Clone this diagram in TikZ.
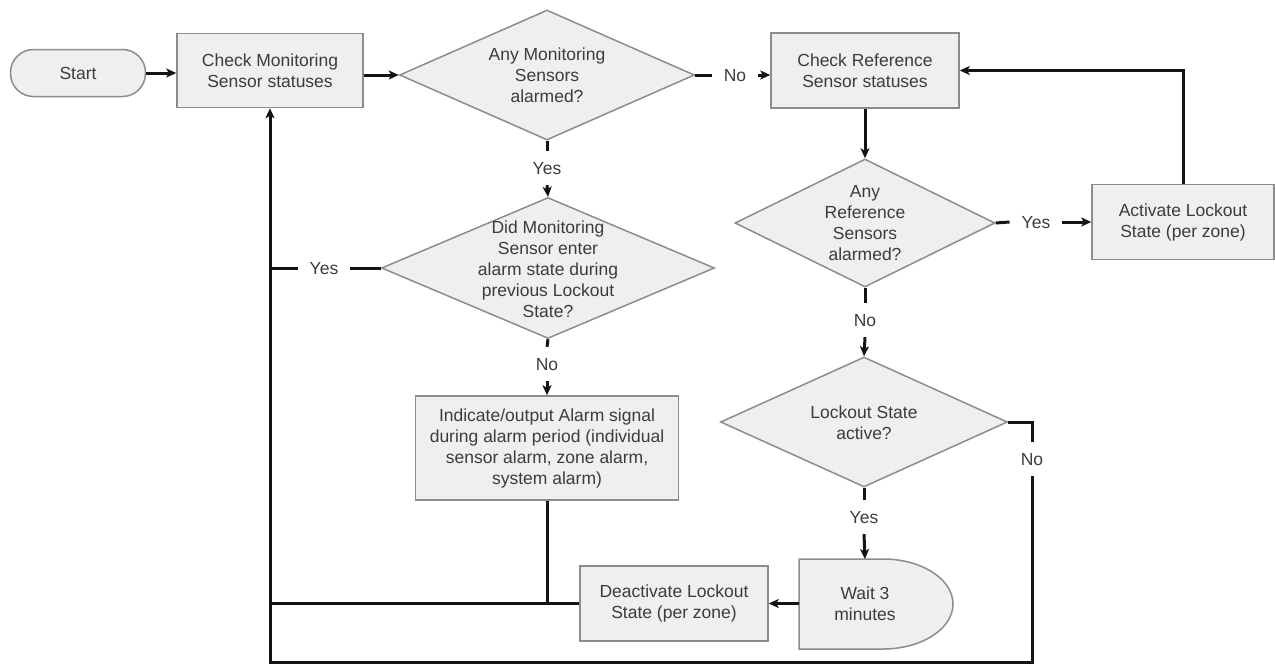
\documentclass[tikz,border=0pt]{standalone}
\usepackage{fontspec}
\setmainfont{Liberation Sans}
\usetikzlibrary{shapes.geometric,arrows.meta}
\definecolor{boxfill}{HTML}{EFEFEF}
\definecolor{boxline}{HTML}{8C8C8C}
\definecolor{txtcol}{HTML}{3C3C3C}
\definecolor{lncol}{HTML}{141414}
\begin{document}
\begin{tikzpicture}[x=1pt,y=-1pt,
  font=\fontsize{17.5}{21}\selectfont, text=txtcol,
  box/.style={draw=boxline, fill=boxfill, line width=1.5pt, align=center, inner sep=0pt},
  dec/.style={diamond, draw=boxline, fill=boxfill, line width=1.5pt, inner sep=0pt},
  txt/.style={align=center, inner sep=0pt},
  lbl/.style={inner xsep=12pt, inner ysep=11pt, text height=12pt, text depth=0pt},
  conn/.style={line width=3pt, draw=lncol},
  arr/.style={conn, -{Stealth[length=10pt,width=9pt,inset=2.5pt]}}]
\useasboundingbox (0,0) rectangle (1275,665);

% nodes
\node[box, rounded corners=23pt, minimum width=135pt, minimum height=47pt] (start) at (78,73) {Start};
\node[box, minimum width=186pt, minimum height=74pt] (cmon) at (270,70.5) {Check Monitoring\\Sensor statuses};
\node[dec, minimum width=295pt, minimum height=130pt] (d1) at (547,75) {};
\node[txt] (d1t) at (d1) {Any Monitoring\\Sensors\\alarmed?};
\node[box, minimum width=188pt, minimum height=75pt] (cref) at (865,70.5) {Check Reference\\Sensor statuses};
\node[dec, minimum width=260pt, minimum height=128pt] (d2) at (865,223) {};
\node[txt] (d2t) at (d2) {Any\\Reference\\Sensors\\alarmed?};
\node[box, minimum width=182pt, minimum height=75pt] (act) at (1183,222) {Activate Lockout\\State (per zone)};
\node[dec, minimum width=333pt, minimum height=141pt] (d3) at (548,268) {};
\node[txt] (d3t) at (548,269) {Did Monitoring\\Sensor enter\\alarm state during\\previous Lockout\\State?};
\node[box, minimum width=263pt, minimum height=104pt] (ind) at (547,448) {Indicate/output Alarm signal\\during alarm period (individual\\sensor alarm, zone alarm,\\system alarm)};
\node[dec, minimum width=287pt, minimum height=130pt] (d4) at (864,422) {};
\node[txt] (d4t) at (864,423) {Lockout State\\active?};
\node[box, minimum width=188pt, minimum height=75pt] (deact) at (674,603.5) {Deactivate Lockout\\State (per zone)};
\draw[draw=boxline, fill=boxfill, line width=1.5pt] (799,559) -- (883,559) arc[start angle=-90, end angle=90, x radius=70, y radius=45] -- (799,649) -- cycle;
\node[txt] (wait) at (865,604) {Wait 3\\minutes};
\coordinate (waittop) at (865,559);
\coordinate (waitleft) at (799,603.5);
\coordinate (bl) at (270,662);

% labels
\node[lbl] (no1) at (735,75) {No};
\node[lbl] (yes1) at (547,168) {Yes};
\node[lbl] (yes3) at (324,268) {Yes};
\node[lbl] (no3) at (547,364) {No};
\node[lbl] (yes2) at (1036,222) {Yes};
\node[lbl] (no2) at (865,320) {No};
\node[lbl] (yes4) at (864,517) {Yes};
\node[lbl] (no4) at (1032,459) {No};

% connectors
\draw[arr] (start.east) -- (start.east -| cmon.west);
\draw[arr] (cmon.east |- d1.west) -- (d1.west);
\draw[conn] (d1.east) -- (no1.west);
\draw[arr] (no1.east) -- (no1.east -| cref.west);
\draw[conn] (d1.south) -- (yes1.north);
\draw[arr] (yes1.south) -- (d3.north);
\draw[conn] (d3.west) -- (yes3.east);
\draw[conn] (yes3.west) -- (yes3.west -| cmon.south);
\draw[conn] (d3.south) -- (no3.north);
\draw[arr] (no3.south) -- (ind.north);
\draw[conn] (ind.south) -- (ind.south |- deact.west);
\draw[conn] (deact.west) -- (deact.west -| cmon.south);
\draw[arr] (cref.south) -- (d2.north);
\draw[conn] (d2.east) -- (yes2.west);
\draw[arr] (yes2.east) -- (act.west);
\draw[arr] (act.north) |- (cref.east);
\draw[conn] (d2.south) -- (no2.north);
\draw[arr] (no2.south) -- (d4.north);
\draw[conn] (d4.south) -- (yes4.north);
\draw[arr] (yes4.south) -- (waittop);
\draw[arr] (waitleft) -- (deact.east);
\draw[conn] (d4.east) -| (no4.north);
\draw[arr] (no4.south) |- (bl) -- (cmon.south);
\end{tikzpicture}
\end{document}
